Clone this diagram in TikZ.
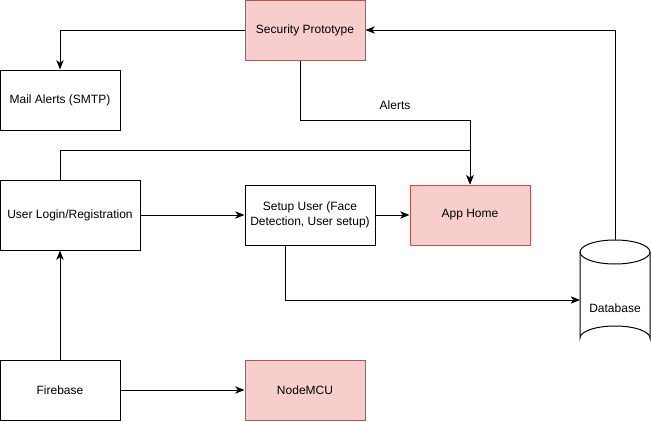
\documentclass[tikz,border=0pt]{standalone}
\usepackage{fontspec}
\setmainfont{Liberation Sans}
\usetikzlibrary{arrows.meta}

\tikzset{
  box/.style={draw, line width=0.75pt, minimum width=90pt, minimum height=45pt, align=center, font=\fontsize{9}{11}\selectfont, inner sep=2pt},
  redbox/.style={box, fill=boxred, draw=boxredline},
  link/.style={line width=0.75pt, -{Stealth[length=7pt,width=5.5pt,inset=2pt]}},
}
\definecolor{boxred}{HTML}{F8CECC}
\definecolor{boxredline}{HTML}{B85450}

\begin{document}
\begin{tikzpicture}[x=0.75pt,y=-0.75pt]
\useasboundingbox (0,0) rectangle (651,422);

% boxes
\node[redbox] (secproto) at (305,30) {Security Prototype};
\node[box] (mail) at (60,100) {Mail Alerts (SMTP)};
\node[box, minimum width=105pt, minimum height=52.5pt] (login) at (70,215) {User Login/Registration};
\node[box, minimum width=97.5pt] (setup) at (310,215) {Setup User (Face\\Detection, User setup)};
\node[redbox] (apphome) at (470,215) {App Home};
\node[box] (firebase) at (60,390) {Firebase};
\node[redbox] (nodemcu) at (305,390) {NodeMCU};

% database cylinder
\draw[line width=0.75pt] (580,252) -- (580,338) arc[start angle=180,end angle=360,x radius=35,y radius=12] -- (650,252);
\draw[line width=0.75pt] (615,252) ellipse[x radius=35,y radius=12];
\node[font=\fontsize{9}{11}\selectfont] (db) at (615,308) {Database};
\coordinate (dbtop) at (615,240);
\coordinate (dbleft) at (580,300);

% connectors
\draw[link] (secproto.west) -| (mail.north);
\draw[link] (secproto.south -| 300,0) |- (470,120) -- (apphome.north);
\node[font=\fontsize{9}{11}\selectfont] (alerts) at (395,105) {Alerts};
\draw[link] (login.north -| firebase.north) |- (470,150) -- (apphome.north);
\draw[link] (login.east) -- (setup.west);
\draw[link] (setup.east) -- (apphome.west);
\draw[link] (setup.south -| 285,0) |- (dbleft);
\draw[link] (dbtop) |- (secproto.east);
\draw[link] (firebase.north) -- (login.south -| firebase.north);
\draw[link] (firebase.east) -- (nodemcu.west);
\end{tikzpicture}
\end{document}
